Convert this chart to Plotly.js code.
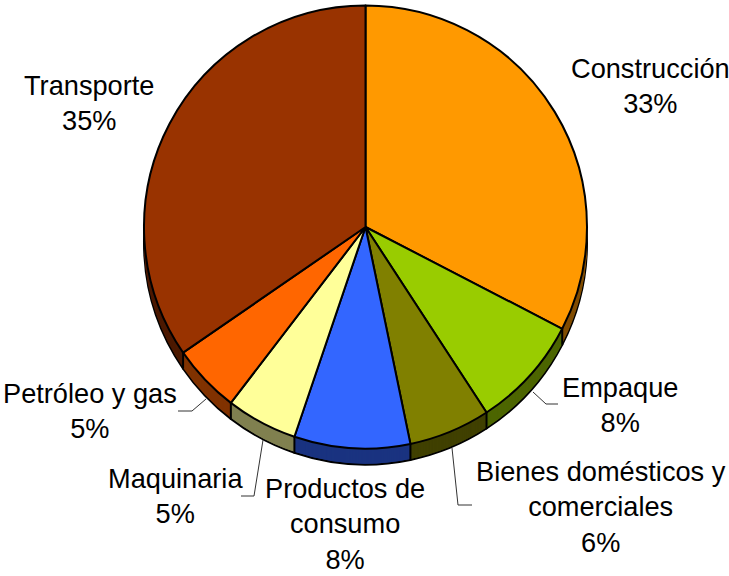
<!DOCTYPE html>
<html>
<head>
<meta charset="utf-8">
<script src="https://cdn.plot.ly/plotly-3.0.1.min.js"></script>
<style>html,body{margin:0;padding:0;background:#fff}#chart{width:729px;height:576px}</style>
</head>
<body>
<div id="chart"></div>
<script>
var categories = ["Construcción","Empaque","Bienes domésticos y comerciales","Productos de consumo","Maquinaria","Petróleo y gas","Transporte"];
var values = [32.6,8.2,5.95,8.45,5.2,5.0,34.6];
var pctLabels = ["33%","8%","6%","8%","5%","5%","35%"];
var topColors = ["#FF9900","#99CC00","#808000","#3366FF","#FFFF99","#FF6600","#993300"];
var sideColors = ["#804D00","#4D6600","#404000","#1A3380","#808050","#803300","#4D1A00"];

var W = 729, H = 576;
var CX = 365.5, CY = 227, R = 221.5, DEPTH = 16;

function fx(x){ return x / W; }
function fy(y){ return 1 - y / H; }

function pieLayer(dy, colors, lineWidth){
  return {
    type: "pie", labels: categories, values: values, sort: false,
    direction: "clockwise", rotation: 0, textinfo: "none", hoverinfo: "skip",
    showlegend: false, automargin: false,
    domain: {x: [fx(CX - R), fx(CX + R)], y: [fy(CY + dy + R), fy(CY + dy - R)]},
    marker: {colors: colors, line: {color: "#000000", width: lineWidth}}
  };
}

var traces = [];
for (var d = DEPTH; d >= 1; d--) traces.push(pieLayer(d, sideColors, d === DEPTH ? 2 : 0));
traces.push(pieLayer(0, topColors, 2));

var shapes = [];
var total = values.reduce(function(a, b){ return a + b; }, 0);
var cum = 0;
values.forEach(function(v){
  cum += v;
  var a = cum / total * 2 * Math.PI;
  if (Math.cos(a) < 0) {
    var x = CX + R * Math.sin(a), y = CY - R * Math.cos(a);
    shapes.push({type: "line", xref: "paper", yref: "paper",
      x0: fx(x), x1: fx(x), y0: fy(y), y1: fy(y + DEPTH),
      line: {color: "#000000", width: 2}});
  }
});

var leaders = [
  [[206,399],[192,411],[178,411]],
  [[263,440],[254,496],[241,496]],
  [[452,448],[458,505],[472,505]],
  [[533,392],[546,404],[558,404]]
];
leaders.forEach(function(pts){
  for (var i = 0; i < pts.length - 1; i++) {
    shapes.push({type: "line", xref: "paper", yref: "paper",
      x0: fx(pts[i][0]), y0: fy(pts[i][1]), x1: fx(pts[i+1][0]), y1: fy(pts[i+1][1]),
      line: {color: "#333333", width: 1}});
  }
});

var labelText = [
  "Construcción<br>" + pctLabels[0],
  "Empaque<br>" + pctLabels[1],
  "Bienes domésticos y<br>comerciales<br>" + pctLabels[2],
  "Productos de<br>consumo<br>" + pctLabels[3],
  "Maquinaria<br>" + pctLabels[4],
  "Petróleo y gas<br>" + pctLabels[5],
  "Transporte<br>" + pctLabels[6]
];
var labelPos = [[650,86],[620,405],[601,507],[345,524],[175,496],[90,411],[89,103]];
var annotations = labelText.map(function(t, i){
  return {text: t, xref: "paper", yref: "paper", x: fx(labelPos[i][0]), y: fy(labelPos[i][1]),
    xanchor: "center", yanchor: "middle", align: "center", showarrow: false,
    font: {family: "Liberation Sans, Arial, sans-serif", size: 27.2, color: "#000000"}};
});

Plotly.newPlot("chart", traces, {
  width: W, height: H,
  margin: {l: 0, r: 0, t: 0, b: 0},
  paper_bgcolor: "#ffffff", plot_bgcolor: "#ffffff",
  showlegend: false, shapes: shapes, annotations: annotations
}, {displayModeBar: false, staticPlot: true});
</script>
</body>
</html>
